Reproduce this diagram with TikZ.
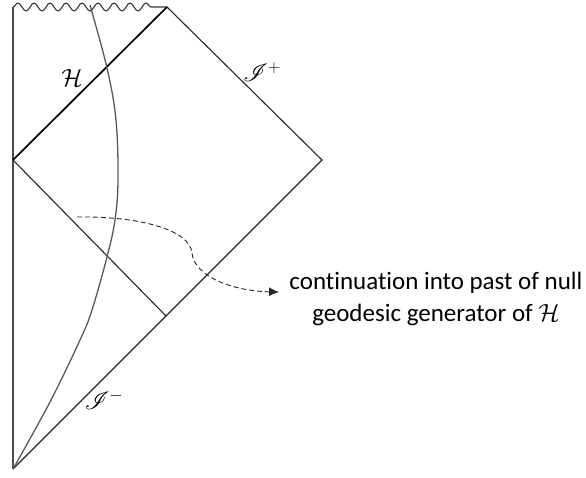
\documentclass[tikz,border=0pt]{standalone}
\usepackage{fontspec}
\setmainfont{Carlito}[Ligatures=NoCommon]
\usepackage{amsmath}
\usepackage{mathrsfs}
\usetikzlibrary{arrows.meta, decorations.pathmorphing, positioning}

\tikzset{
    % boundary and light-ray styles
    edge line/.style={
        line width=1.1pt,
        draw=black!85
    },
    axis line/.style={
        line width=1.9pt,
        draw=black!70
    },
    horizon line/.style={
        line width=1.7pt,
        draw=black
    },
    surface line/.style={
        line width=1.3pt,
        draw=black!65
    },
    singular line/.style={
        line width=1.1pt,
        draw=black!80,
        decorate,
        decoration={snake, segment length=16pt, amplitude=4pt, post length=12pt}
    },
    generator arrow/.style={
        -{Latex[length=10pt, width=9pt]},
        dash pattern=on 5pt off 3pt,
        line width=0.9pt,
        black!85
    },
    diagram label/.style={
        font=\fontsize{23}{27}\selectfont,
        inner sep=0pt
    },
    note text/.style={
        align=center,
        font=\fontsize{25}{32}\selectfont,
        inner sep=0pt
    }
}

\begin{document}
\begin{tikzpicture}[x=1pt, y=-1pt]
        \useasboundingbox (0,0) rectangle (586,477);

        % corners of the diagram
        \coordinate (top left) at (13,7);
        \coordinate (top right) at (167,7);
        \coordinate (infinity) at (322,160);
        \coordinate (mid left) at (13,160);
        \coordinate (bottom) at (13,469);
        \coordinate (past end) at (166,316);

        % singularity
        \draw[singular line] (top left) -- (top right);

        % r = 0
        \draw[axis line] (top left) -- (bottom);

        % null infinity
        \draw[edge line] (top right) -- (infinity) -- (bottom);

        % event horizon
        \draw[horizon line] (mid left) -- (top right);

        % past continuation of generator
        \draw[edge line] (mid left) -- (past end);

        % collapsing surface
        \draw[surface line] plot[smooth, tension=0.6] coordinates {
            (90,5) (107,68) (116,120) (118,180) (115,220) (107,257)
            (92,310) (80,340) (50,402) (13,469)};

        % labels
        \node[diagram label] (hlabel) at (72,78) {$\mathcal{H}$};
        \node[diagram label] (scriplus) at (262,72) {$\mathscr{I}^+$};
        \node[diagram label] (scriminus) at (104,400) {$\mathscr{I}^-$};

        % dashed pointer to the note
        \coordinate (dash start) at (77,217);
        \coordinate (dash bend) at (192,253);
        \coordinate (tip) at (279,292);
        \node[note text] (note) at (436,299) {continuation into past of null\\
            geodesic generator of $\mathcal{H}$};
        \draw[generator arrow] (dash start)
            .. controls (140,216) and (190,230) .. (dash bend)
            .. controls (194,276) and (232,291) .. (tip);
    \end{tikzpicture}
\end{document}
